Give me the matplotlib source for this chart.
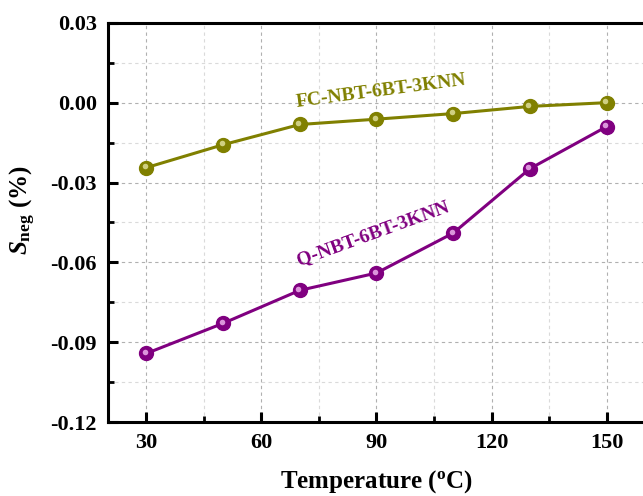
import numpy as np
import matplotlib.pyplot as plt
import matplotlib.transforms as mtransforms
from matplotlib.ticker import MultipleLocator

plt.rcParams['font.family'] = ['Liberation Serif', 'DejaVu Serif']
plt.rcParams['font.weight'] = 'bold'
plt.rcParams['mathtext.fontset'] = 'custom'
plt.rcParams['mathtext.rm'] = 'Liberation Serif:bold'
plt.rcParams['mathtext.it'] = 'Liberation Serif:italic:bold'
plt.rcParams['mathtext.bf'] = 'Liberation Serif:bold'

# Données
temps = [30, 50, 70, 90, 110, 130, 150]
fc_vals = [-0.0244, -0.0158, -0.0082, -0.0062, -0.0041, -0.0014, 0.0000]
q_vals = [-0.0942, -0.0829, -0.0705, -0.0640, -0.0490, -0.0248, -0.0090]

olive = '#808000'
purple = '#800080'

fig = plt.figure(figsize=(6.43, 4.96), dpi=100)
ax = fig.add_axes([0.168, 0.149, 0.835, 0.805])

# Grille pointillée (majeure + mineure)
ax.xaxis.set_major_locator(MultipleLocator(30))
ax.xaxis.set_minor_locator(MultipleLocator(15))
ax.yaxis.set_major_locator(MultipleLocator(0.03))
ax.yaxis.set_minor_locator(MultipleLocator(0.015))
ax.grid(which='major', color='#b0b0b0', linestyle=(0, (3, 3)), linewidth=0.8)
ax.grid(which='minor', color='#dadada', linestyle=(0, (3, 3)), linewidth=0.8)
ax.set_axisbelow(True)

# Courbes avec marqueurs "sphères"
hl = mtransforms.offset_copy(ax.transData, fig=fig, x=-1.5, y=1.5, units='dots')
for vals, col, light in [(fc_vals, olive, '#d8d890'), (q_vals, purple, '#e6a6e6')]:
    ax.plot(temps, vals, color=col, linewidth=2.2, marker='o', markersize=10,
            markeredgecolor=col, zorder=3)
    ax.plot(temps, vals, linestyle='none', marker='o', markersize=4,
            color=light, markeredgewidth=0, alpha=0.9, transform=hl, zorder=4)

ax.text(91.2, 0.0043, 'FC-NBT-6BT-3KNN', color=olive, fontsize=14, fontweight='bold',
        rotation=7.5, ha='center', va='center')
ax.text(89.1, -0.049, 'Q-NBT-6BT-3KNN', color=purple, fontsize=14, fontweight='bold',
        rotation=20, ha='center', va='center')

ax.set_xlim(20, 160)
ax.set_ylim(-0.12, 0.03)
ax.set_xticks([30, 60, 90, 120, 150])
ax.set_yticks([-0.12, -0.09, -0.06, -0.03, 0.00, 0.03])
ax.set_yticklabels(['-0.12', '-0.09', '-0.06', '-0.03', '0.00', '0.03'])

for s in ax.spines.values():
    s.set_linewidth(2.2)
ax.tick_params(which='major', direction='in', length=7, width=2.2, labelsize=16,
               top=False, right=False, pad=8)
ax.tick_params(which='minor', direction='in', length=4, width=2.0,
               top=False, right=False)
for lab in ax.get_xticklabels() + ax.get_yticklabels():
    lab.set_fontweight('bold')

ax.set_xlabel(r'Temperature ($\mathregular{^{o}}$C)', fontsize=18, fontweight='bold', labelpad=11)
ax.set_ylabel(r'$S_{\mathregular{neg}}$ (%)', fontsize=18, fontweight='bold', labelpad=4)
ax.yaxis.set_label_coords(-0.13, 0.53)

fig.savefig('out.png', dpi=100)
